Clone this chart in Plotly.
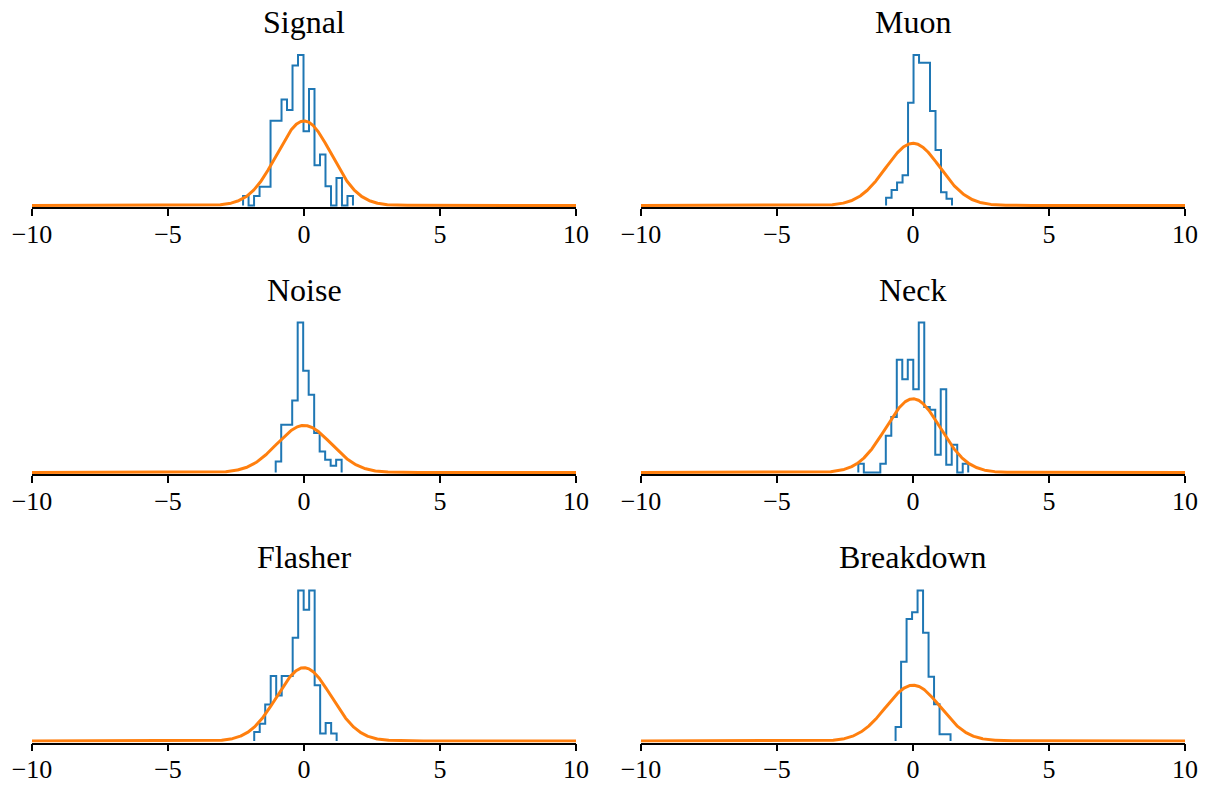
import numpy as np
import plotly.graph_objects as go

# ---------------- data ----------------
titles = ["Signal", "Muon", "Noise", "Neck", "Flasher", "Breakdown"]
bin_width = 0.202

signal_start = -2.24
signal_heights = [0.044, 0.0, 0.044, 0.088, 0.088, 0.40, 0.40, 0.50, 0.45, 0.66,
                  0.71, 0.35, 0.55, 0.19, 0.24, 0.09, 0.0, 0.13, 0.0, 0.044]

muon_start = -0.99
muon_heights = [0.050, 0.099, 0.147, 0.194, 0.660, 0.966, 0.916, 0.916, 0.606,
                0.356, 0.085, 0.043]

noise_start = -1.04
noise_heights = [0.093, 0.405, 0.405, 0.611, 1.273, 0.863, 0.659, 0.334, 0.178,
                 0.108, 0.057, 0.108]

neck_start = -2.01
neck_heights = [0.047, 0.0, 0.0, 0.0, 0.047, 0.199, 0.300, 0.610, 0.505, 0.610,
                0.451, 0.812, 0.354, 0.339, 0.096, 0.451, 0.042, 0.150, 0.0, 0.047]

flasher_start = -1.83
flasher_heights = [0.049, 0.094, 0.199, 0.354, 0.248, 0.354, 0.354, 0.562, 0.819,
                   0.714, 0.819, 0.303, 0.040, 0.098, 0.040]

breakdown_start = -0.64
breakdown_heights = [0.100, 0.566, 0.872, 0.920, 1.075, 0.774, 0.459, 0.263,
                     0.048, 0.048]

gauss_mu = 0.0
gauss_sigma = 1.0
x_min, x_max = -10, 10
tick_vals = [-10, -5, 0, 5, 10]

starts = [signal_start, muon_start, noise_start, neck_start, flasher_start, breakdown_start]
heights = [signal_heights, muon_heights, noise_heights, neck_heights, flasher_heights,
           breakdown_heights]

# ---------------- layout geometry ----------------
W, H = 1209, 786
x_domains = [[32 / W, 576 / W], [641 / W, 1185 / W]]
row_px = [(47.5, 207.0), (315.0, 474.0), (583.0, 742.5)]  # (top, bottom) pixels
y_domains = [[1 - b / H, 1 - t / H] for (t, b) in row_px]
title_px = [22, 290, 557]

BLUE = "#1f77b4"
ORANGE = "#ff7f0e"
FONT = "Liberation Serif"

fig = go.Figure()
gx = np.linspace(x_min, x_max, 2001)
gy = np.exp(-0.5 * ((gx - gauss_mu) / gauss_sigma) ** 2) / (gauss_sigma * np.sqrt(2 * np.pi))

annotations = []
for i in range(6):
    r, c = divmod(i, 2)
    ax = "" if i == 0 else str(i + 1)
    h = list(heights[i])
    n = len(h)
    edges = starts[i] + bin_width * np.arange(n + 1)
    sx = [edges[0]] + list(edges[:n]) + [edges[n]]
    sy = [0.0] + h + [0.0]
    fig.add_trace(go.Scatter(x=sx, y=sy, mode="lines", line=dict(color=BLUE, width=2, shape="hv"),
                             xaxis="x" + ax, yaxis="y" + ax, showlegend=False, hoverinfo="skip"))
    fig.add_trace(go.Scatter(x=gx, y=gy, mode="lines", line=dict(color=ORANGE, width=3),
                             xaxis="x" + ax, yaxis="y" + ax, showlegend=False, hoverinfo="skip"))
    top = 1.05 * max(max(h), gy.max())
    fig.layout["xaxis" + ax] = dict(
        domain=x_domains[c], range=[x_min, x_max], anchor="y" + ax, automargin=False,
        showgrid=False, zeroline=False, showline=True, linecolor="black", linewidth=1.5,
        ticks="outside", ticklen=7, tickwidth=1.5, tickcolor="black",
        tickvals=tick_vals, ticktext=[("\u2212" + str(-v)) if v < 0 else str(v) for v in tick_vals],
        tickfont=dict(family=FONT, size=26, color="black"),
        ticklabelstandoff=-4,
    )
    fig.layout["yaxis" + ax] = dict(
        domain=y_domains[r], range=[-0.01 * top, top], anchor="x" + ax, visible=False,
        automargin=False,
    )
    annotations.append(dict(
        text=titles[i], xref="paper", yref="paper",
        x=(x_domains[c][0] + x_domains[c][1]) / 2, y=1 - title_px[r] / H,
        xanchor="center", yanchor="middle", showarrow=False,
        font=dict(family=FONT, size=32, color="black"),
    ))

fig.update_layout(
    width=W, height=H, margin=dict(l=0, r=0, t=0, b=0, autoexpand=False),
    paper_bgcolor="white", plot_bgcolor="white", annotations=annotations,
)
fig.write_html("out.html", config={"displayModeBar": False},
               post_script="document.body.style.margin='0';")
